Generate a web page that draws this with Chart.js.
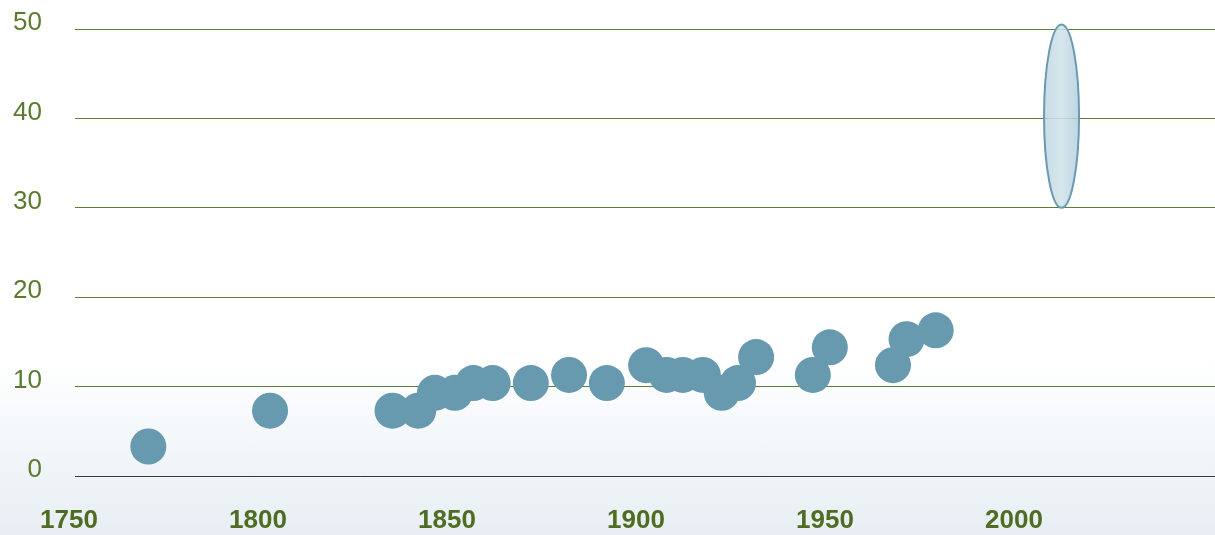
<!DOCTYPE html>
<html>
<head>
<meta charset="utf-8">
<script src="https://cdn.jsdelivr.net/npm/chart.js@4.4.1/dist/chart.umd.min.js"></script>
<style>
  html, body { margin: 0; padding: 0; }
  body {
    width: 1215px; height: 535px; overflow: hidden;
    background: linear-gradient(to bottom, #ffffff 0px, #ffffff 360px, #f6f9fc 420px, #e8eef3 535px);
  }
  canvas { display: block; }
</style>
</head>
<body>
<canvas id="sea-chart" width="1215" height="535"></canvas>
<script>
// observed points
const years = [1769.4, 1801.6, 1834.0, 1840.8, 1845.2, 1850.5, 1855.4, 1860.5, 1870.6, 1880.7,
    1890.7, 1901.1, 1906.5, 1910.8, 1916.1, 1921.1, 1925.4, 1930.2, 1945.2, 1949.7,
    1966.4, 1970.0, 1977.7];
const levels = [3.3, 7.3, 7.3, 7.3, 9.3, 9.3, 10.4, 10.4, 10.4, 11.3,
    10.4, 12.4, 11.3, 11.3, 11.3, 9.3, 10.4, 13.3, 11.3, 14.4,
    12.4, 15.3, 16.3];

// projected range (ellipse)
const projYear = [2011];
const projLow = [30];
const projHigh = [50.5];

const xTicks = [1750, 1800, 1850, 1900, 1950, 2000];
const yTicks = [0, 10, 20, 30, 40, 50];

const points = years.map((y, i) => ({x: y, y: levels[i]}));

// draws the projection ellipse through the chart scales
const ellipsePlugin = {
    id: 'projEllipse',
    afterDatasetsDraw(chart) {
        const ctx = chart.ctx;
        const xs = chart.scales.x, ys = chart.scales.y;
        projYear.forEach((yr, i) => {
            const cx = xs.getPixelForValue(yr);
            const top = ys.getPixelForValue(projHigh[i]);
            const bot = ys.getPixelForValue(projLow[i]);
            const cy = (top + bot) / 2;
            const rx = 17.5, ry = (bot - top) / 2;
            ctx.save();
            const g = ctx.createLinearGradient(cx - rx, 0, cx + rx, 0);
            g.addColorStop(0, 'rgba(190,215,226,0.85)');
            g.addColorStop(0.5, 'rgba(208,226,234,0.85)');
            g.addColorStop(1, 'rgba(178,206,220,0.85)');
            ctx.beginPath();
            ctx.ellipse(cx, cy, rx, ry, 0, 0, Math.PI * 2);
            ctx.fillStyle = g;
            ctx.fill();
            ctx.lineWidth = 2;
            ctx.strokeStyle = '#6a9bb1';
            ctx.stroke();
            ctx.restore();
        });
    }
};

const data = {
    datasets: [{
        label: 'observed',
        data: points,
        backgroundColor: '#6799af',
        borderWidth: 0,
        pointRadius: 18,
        pointHoverRadius: 18,
        clip: false
    }]
};

const config = {
    type: 'scatter',
    data,
    plugins: [ellipsePlugin],
    options: {
        responsive: false,
        animation: false,
        layout: {
            autoPadding: false,
            padding: {top: 29, right: 0, left: 0, bottom: 0}
        },
        plugins: {
            legend: {display: false},
            tooltip: {enabled: false}
        },
        scales: {
            x: {
                type: 'linear',
                min: 1750,
                max: 2051.6,
                afterBuildTicks: (scale) => { scale.ticks = xTicks.map(v => ({value: v})); },
                afterFit: (scale) => {
                    scale.height = 59;
                    scale.paddingLeft = 0;
                    scale.paddingRight = 0;
                },
                grid: {display: false},
                border: {display: true, color: '#3a3a3a', width: 1},
                ticks: {
                    color: '#4e6d23',
                    font: {family: 'Liberation Sans', size: 26, weight: 'bold'},
                    padding: 21,
                    labelOffset: -6,
                    maxRotation: 0,
                    callback: (v) => String(v)
                }
            },
            y: {
                min: 0,
                max: 50,
                afterBuildTicks: (scale) => { scale.ticks = yTicks.map(v => ({value: v})); },
                afterFit: (scale) => {
                    scale.width = 75;
                    scale.paddingTop = 0;
                    scale.paddingBottom = 0;
                },
                grid: {color: '#5e7e33', lineWidth: 1, drawTicks: false},
                border: {display: false},
                ticks: {
                    color: '#5a7a2d',
                    font: {family: 'Liberation Sans', size: 26},
                    padding: 33,
                    labelOffset: -6,
                    callback: (v) => String(v)
                }
            }
        }
    }
};

var seaChart = new Chart(document.getElementById('sea-chart'), config);
</script>
</body>
</html>
